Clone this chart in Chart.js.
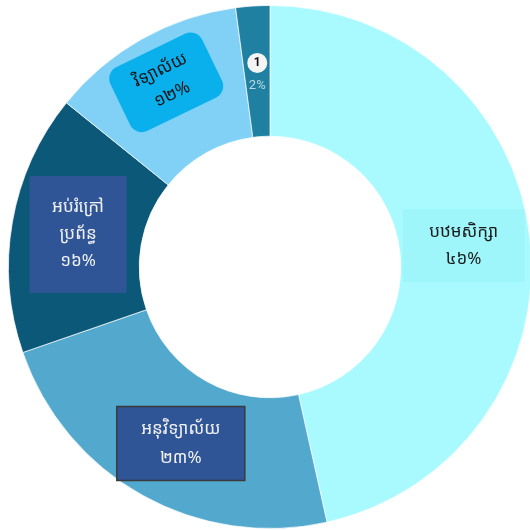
<!DOCTYPE html>
<html>
<head>
<meta charset="utf-8">
<script src="https://cdn.jsdelivr.net/npm/chart.js@4.4.1/dist/chart.umd.min.js"></script>
<style>
  html, body { margin: 0; padding: 0; background: #fff; overflow: hidden; }
  #wrap { position: relative; width: 536px; height: 530px; }
</style>
</head>
<body>
<div id="wrap"><canvas id="chart"></canvas></div>
<script>
// data
const categories = ["បឋមសិក្សា", "អនុវិទ្យាល័យ", "អប់រំក្រៅប្រព័ន្ធ", "វិទ្យាល័យ", "1"];
const values = [46.5, 23.2, 16.1, 12.1, 2.1];
const percentText = ["៤៦%", "២៣%", "១៦%", "១២%", "2%"];
const labelLines = [["បឋមសិក្សា"], ["អនុវិទ្យាល័យ"], ["អប់រំក្រៅ", "ប្រព័ន្ធ"], ["វិទ្យាល័យ"], ["1"]];
const sliceColors = ["#A9FAFE", "#52A9CD", "#0B5879", "#80D1F5", "#1F80A1"];

const khmerFont = "'Noto Sans Khmer', 'Khmer OS', 'Noto Sans', sans-serif";

// label box styles per slice
const boxStyle = [
  { r: 0.745, dx: 0, dy: 0, w: 122, h: 73, fill: "#9EF6FA", stroke: null, color: "#1b1b1b", rot: 0, radius: 0, lh: 27 },
  { r: 0.755, dx: 7, dy: 4, w: 128, h: 74, fill: "#2F5597", stroke: "#3a3a3a", color: "#f2f2f2", rot: 0, radius: 0, lh: 29 },
  { r: 0.745, dx: 0, dy: 1, w: 97, h: 117, fill: "#2F5597", stroke: null, color: "#f2f2f2", rot: 0, radius: 0, lh: 27 },
  { r: 0.81, dx: 0, dy: 0, w: 102, h: 71, fill: "#0AB0EC", stroke: null, color: "#111", rot: -0.45, radius: 13, lh: 27 },
  { r: 0.74, dx: 0, dy: 0, w: 0, h: 0, fill: null, stroke: null, color: "#111", rot: 0, radius: 0, lh: 0 }
];

const labelPlugin = {
  id: "sliceLabels",
  afterDatasetsDraw(chart) {
    const ctx = chart.ctx;
    const meta = chart.getDatasetMeta(0);
    meta.data.forEach((arc, i) => {
      const p = arc.getProps(["x", "y", "startAngle", "endAngle", "outerRadius"], true);
      const mid = (p.startAngle + p.endAngle) / 2;
      const st = boxStyle[i];
      const cx = p.x + Math.cos(mid) * p.outerRadius * st.r + st.dx;
      const cy = p.y + Math.sin(mid) * p.outerRadius * st.r + st.dy;
      ctx.save();
      ctx.translate(cx, cy);
      ctx.rotate(st.rot);
      if (i === 4) {
        // small slice: numbered badge plus percent
        ctx.beginPath();
        ctx.arc(0, -11, 10, 0, Math.PI * 2);
        ctx.fillStyle = "#f4f4f4";
        ctx.fill();
        ctx.fillStyle = "#111";
        ctx.font = "bold 12px Roboto, sans-serif";
        ctx.textAlign = "center";
        ctx.textBaseline = "middle";
        ctx.fillText(labelLines[i][0], 0, -11);
        ctx.fillStyle = "#bcd8e4";
        ctx.font = "13px Roboto, sans-serif";
        ctx.fillText(percentText[i], 0, 12);
        ctx.restore();
        return;
      }
      ctx.beginPath();
      if (st.radius) {
        ctx.roundRect(-st.w / 2, -st.h / 2, st.w, st.h, st.radius);
      } else {
        ctx.rect(-st.w / 2, -st.h / 2, st.w, st.h);
      }
      ctx.fillStyle = st.fill;
      ctx.fill();
      if (st.stroke) {
        ctx.lineWidth = 1.5;
        ctx.strokeStyle = st.stroke;
        ctx.stroke();
      }
      const lines = labelLines[i].concat([percentText[i]]);
      ctx.fillStyle = st.color;
      ctx.font = "17px " + khmerFont;
      ctx.textAlign = "center";
      ctx.textBaseline = "middle";
      lines.forEach((t, k) => {
        ctx.fillText(t, 0, (k - (lines.length - 1) / 2) * st.lh);
      });
      ctx.restore();
    });
  }
};

new Chart(document.getElementById("chart").getContext("2d"), {
  type: "doughnut",
  data: {
    labels: categories,
    datasets: [{
      data: values,
      backgroundColor: sliceColors,
      borderColor: "rgba(255,255,255,0.7)",
      borderWidth: 1
    }]
  },
  options: {
    responsive: true,
    maintainAspectRatio: false,
    animation: false,
    cutout: "50%",
    layout: { padding: { left: 8, right: 4, top: 5, bottom: 1 } },
    plugins: {
      legend: { display: false },
      tooltip: { enabled: false }
    }
  },
  plugins: [labelPlugin]
});
</script>
</body>
</html>
